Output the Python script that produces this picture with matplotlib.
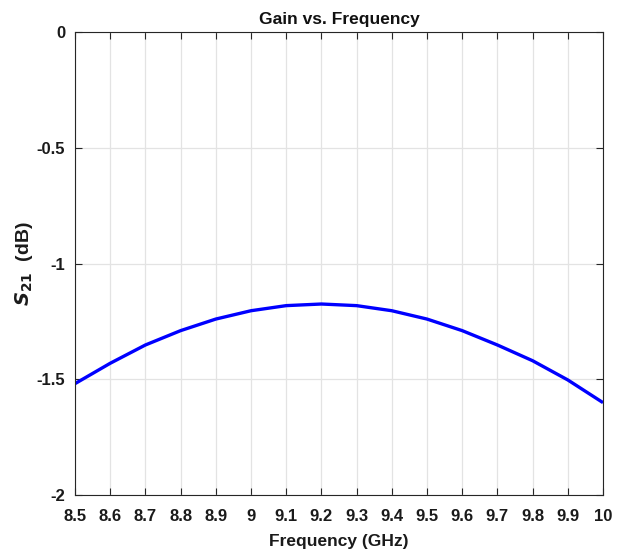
import matplotlib
matplotlib.use("Agg")
import matplotlib.pyplot as plt

freq = [8.5, 8.6, 8.7, 8.8, 8.9, 9.0, 9.1, 9.2, 9.3, 9.4, 9.5, 9.6, 9.7, 9.8, 9.9, 10.0]
s21 = [-1.519, -1.431, -1.352, -1.290, -1.240, -1.204, -1.182, -1.175,
       -1.182, -1.204, -1.240, -1.290, -1.352, -1.420, -1.503, -1.601]
xticks = [8.5, 8.6, 8.7, 8.8, 8.9, 9.0, 9.1, 9.2, 9.3, 9.4, 9.5, 9.6, 9.7, 9.8, 9.9, 10.0]
xticklabels = ["8.5", "8.6", "8.7", "8.8", "8.9", "9", "9.1", "9.2", "9.3", "9.4",
               "9.5", "9.6", "9.7", "9.8", "9.9", "10"]
yticks = [-2, -1.5, -1, -0.5, 0]
yticklabels = ["-2", "-1.5", "-1", "-0.5", "0"]

font = "Liberation Sans"

fig = plt.figure(figsize=(6.22, 5.56), dpi=100)
ax = fig.add_axes([75/622, 1-495/556, (603-75)/622, (495-32)/556])

ax.plot(freq, s21, color=(0, 0, 1), lw=2.4, solid_capstyle="butt")
ax.set_xlim(8.5, 10)
ax.set_ylim(-2, 0)
ax.set_xticks(xticks)
ax.set_xticklabels(xticklabels)
ax.set_yticks(yticks)
ax.set_yticklabels(yticklabels)
ax.grid(True, color="#e3e3e3", lw=0.9)
ax.set_axisbelow(True)
for s in ax.spines.values():
    s.set_color("#262626")
    s.set_linewidth(0.8)
ax.tick_params(direction="in", length=5, width=0.8, color="#262626",
               top=True, right=True)
ax.tick_params(axis="x", pad=10)
ax.tick_params(axis="y", pad=7)
for lab in ax.get_xticklabels() + ax.get_yticklabels():
    lab.set_fontfamily(font)
    lab.set_fontweight("bold")
    lab.set_fontsize(12)
    lab.set_color("#1a1a1a")

ax.set_title("Gain vs. Frequency", fontfamily=font, fontweight="bold",
             fontsize=12.5, pad=6, color="#111111")
ax.set_xlabel("Frequency (GHz)", fontfamily=font, fontweight="bold",
              fontsize=12.5, labelpad=7, color="#1a1a1a")
ax.set_ylabel(r"$\mathbfit{S}_{\mathbf{21}}$  (dB)", fontfamily=font,
              fontweight="bold", fontsize=14, labelpad=1, color="#1a1a1a")

fig.savefig("out.png", dpi=100)
